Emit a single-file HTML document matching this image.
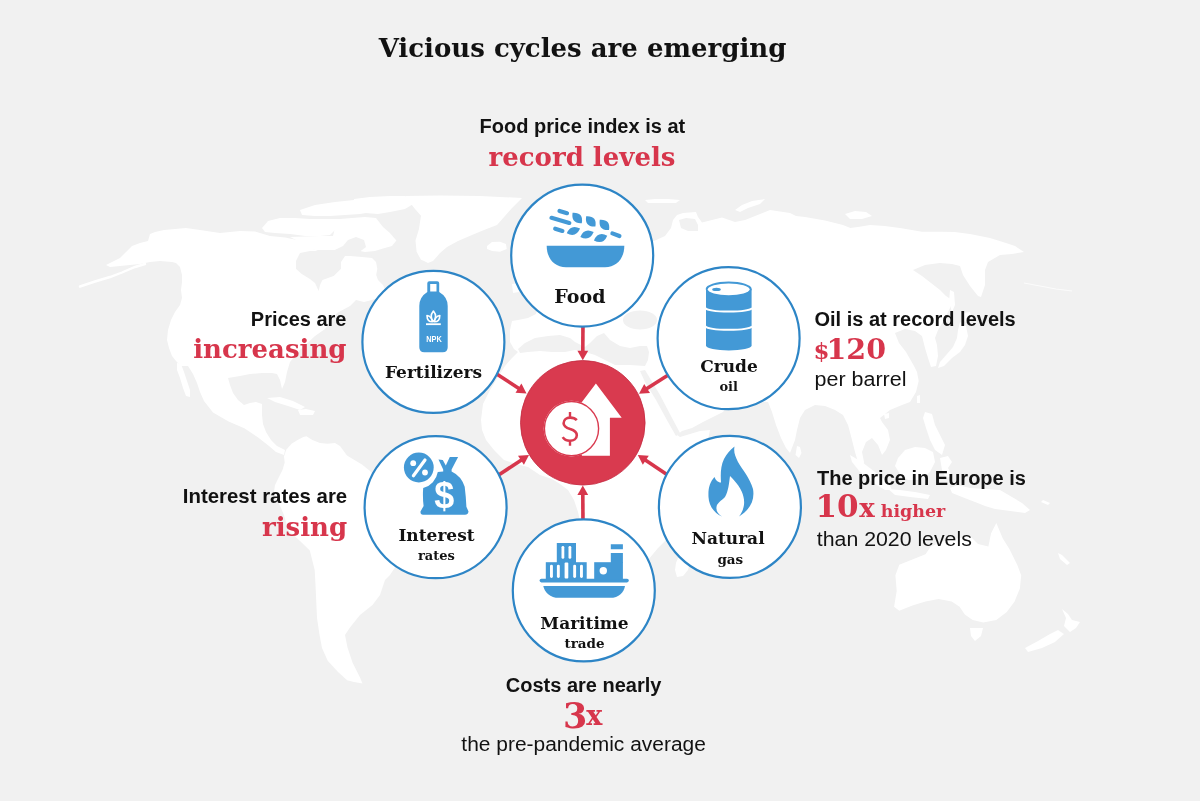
<!DOCTYPE html>
<html>
<head>
<meta charset="utf-8">
<title>Vicious cycles are emerging</title>
<style>
html,body{margin:0;padding:0;background:#f1f1f1;}
#wrap{position:relative;width:1200px;height:801px;overflow:hidden;background:#f1f1f1;}
svg{position:absolute;left:0;top:0;}
.sans{font-family:"Liberation Sans",Arial,sans-serif;}
.serif{font-family:"DejaVu Serif",Georgia,serif;font-weight:bold;}
</style>
</head>
<body>
<div id="wrap">
<svg width="1200" height="801" viewBox="0 0 1200 801">
<g id="map">
<path d="M106,265 L112,262 L120,258 L126,252 L132,246 L140,243 L148,241 L150,234 L155,232 L164,230 L175,229 L186,228 L200,230 L220,233 L240,231 L255,231.5 L270,236 L285,237.5 L300,240.5 L307.5,247 L318,251 L330,252 L341,256 L350,256 L362,257 L372,258 L376,262 L377.3,268.7 L376.2,275 L378,280 L383,285 L386,292 L380,297 L372,300 L364,302 L356,300 L350,306 L337,313 L325,329 L315,336 L300,350 L290,362 L287,372 L285,382 L282,389 L280,380 L277,374 L272,373 L262,373 L250,374 L240,376 L228,378 L230,385 L233,393 L238,400 L244,405 L250,403 L256,402 L262,404 L262,415 L263,424 L266,432 L271,440 L277,446 L285,450 L284,455 L276,452 L269,446 L257.8,437.2 L244.3,428.2 L228.6,421.5 L213,412.5 L204,401 L200,392 L197,383 L193,374 L188,366 L181,366 L176,361 L172,356 L169,348 L167,340 L168,330 L171,320 L175,312 L180,305 L182,298 L181,290 L182,282 L182,275 L180,267 L176,263 L172,262 L160,261 L150,262 L140,264 L130,265 L120,266 L110,267Z" fill="#ffffff"/>
<path d="M177,363 L181,364 L184,372 L187,381 L190,390 L190,397 L186,396 L183,388 L180,378 L177,370Z" fill="#ffffff"/>

<path d="M337,222 L350,219 L365,219 L376,218 L383,227 L389.7,232.7 L396.4,240.6 L392,246 L383,248.4 L375,251 L365,252 L355,250 L345,247 L338,243 L333,236 L335,228Z" fill="#ffffff"/>
<path d="M300,210 L315,205 L335,202 L354,200 L365,204 L372,212 L360,214 L345,215 L330,216 L315,216 L302,215Z" fill="#ffffff"/>
<path d="M262,228 L268,221 L280,218 L295,218 L310,219 L325,219 L340,219 L352,218 L365,217 L376,218 L376,223 L360,224 L345,226 L335,230 L330,235 L320,236 L305,236 L290,234 L275,233 L265,232Z" fill="#ffffff"/>
<path d="M290,237 L305,236.5 L320,236 L335,236 L345,240 L343,247 L335,250 L325,250 L315,250 L307,248 L300,242Z" fill="#ffffff"/>
<path d="M354,199 L370,197 L390,196 L405,196 L415,203 L405,209 L390,212 L378,214 L365,213 L355,208Z" fill="#ffffff"/>
<path d="M405,196 L440,195.5 L480,196 L522,198 L512,208 L497,225 L484,230 L472,235 L458,241 L447,247 L440,253 L433,261 L428,263 L424,261 L421,259.7 L416.6,251.8 L415.5,240.6 L418.9,229.3 L421,215.8 L415,209Z" fill="#ffffff"/>
<path d="M487,246 L492,242 L500,241.7 L506,244 L506.7,249 L500,251.7 L492,251 L487,249Z" fill="#ffffff"/>
<path d="M284,456.5 L286.2,449.7 L291.5,443.7 L297.5,440 L303.4,437 L306.4,436.2 L312.4,440 L320,443 L327.4,443.7 L335,443 L340,446 L347,455.5 L354.5,460 L362,464.5 L369.5,470.5 L374,475 L378,482 L385,488 L400,495 L415,502 L425,510 L420,525 L410,545 L400,560 L390,575 L385,580 L380,595 L372.5,605 L360,615 L350,627.5 L345,635 L347.5,647.5 L352.5,662.5 L360,677.5 L362.5,683.5 L354,682 L347.1,680.3 L338,672 L327.7,660.8 L322,648 L319.5,634.8 L317,618 L316.3,602.3 L315.5,585 L314.7,569.9 L309.8,550.4 L300,541 L288.7,531 L283.8,514.7 L281,508 L277,500 L274,492 L275,485 L278.7,477.4 L282.5,470 L284.7,462.5Z" fill="#ffffff"/>
<path d="M518,352 L512,358 L505,366 L498,377 L490,390 L485,400 L483,404 L481,420 L482,430 L486,440 L494,450 L504,460 L516,464 L528,467 L540,475 L552,479 L560,484 L568,490 L574,500 L578,512 L582,530 L588,555 L594,580 L600,598 L610,606 L622,604 L632,596 L640,582 L646,566 L648,560 L658,548 L670,536 L675,520 L680,500 L688,480 L698,458 L708,440 L710,430 L700,431 L690,434 L680,437 L677,435 L682,431 L692,428 L703,422 L715,416 L723,412 L728,405 L730,398 L735,400 L745,401 L755,401 L768,402 L772,412 L776,425 L781,438 L786,448 L790,453 L795,440 L797,430 L800,418 L805,410 L815,405 L825,406 L835,410 L843,415 L848,425 L852,440 L855,452 L858,462 L862,470 L864,462 L862,452 L866,442 L872,438 L878,445 L882,455 L886,450 L890,440 L888,430 L882,422 L880,418 L890,410 L902,405 L910,402 L916,392 L918.7,381 L917,372 L914,366 L906,352 L899,343 L895,333 L905,329 L915,331 L922,336 L925,348 L928,358 L931,367 L936,366 L938,356 L937,345 L935,338 L938,330 L944,320 L950,308 L952,300 L946,296 L940,290 L931,283 L922,276 L913,270 L925,265 L940,263 L952,264 L960,266 L963,275 L970,286 L978,296 L981,297 L985,285 L985,270 L988,262 L1000,255 L1012,254 L1024,252 L1015,246 L1006,243 L990,238 L970,234 L955,232 L940,231.7 L922,231.7 L900,228 L885,226 L870,225 L858,227 L850.4,228 L843,225 L825,220.4 L805,217 L796,216 L790,213 L770,210 L760,214 L745,220 L735,222 L722,217.5 L712,220 L702,222.5 L698,217 L696,212 L683,213 L677,215 L673,220 L671,228 L665,236 L654,241 L645,243 L640,243 L625,222 L610,212 L595,215 L580,225 L568,240 L558,258 L550,272 L545,290 L538,305 L536,314 L528,318 L518,320 L512,321 L510,330 L510,342 L514,349Z" fill="#ffffff"/>
<path d="M960,322 L966,326 L968,336 L965,345 L960,352 L952,358 L944,366 L938,368 L940,362 L947,354 L953,347 L957,338 L958,330Z" fill="#ffffff"/>
<path d="M963,313 L970,312 L972,318 L966,322 L962,318Z" fill="#ffffff"/>
<path d="M678,558 L686,556 L690,562 L688,570 L683,576 L677,577 L675,570 L676,563Z" fill="#ffffff"/>
<path d="M850,455 L862,462 L875,472 L888,482 L892,490 L885,490 L872,482 L860,472 L852,462Z" fill="#ffffff"/>
<path d="M888,489 L900,490 L915,492 L930,495 L928,499 L910,497 L895,495Z" fill="#ffffff"/>
<path d="M898,458 L905,450 L915,447 L925,448 L933,452 L935,462 L930,472 L920,480 L908,480 L900,474 L895,466Z" fill="#ffffff"/>
<path d="M940,458 L948,456 L952,462 L948,468 L952,476 L946,478 L942,470Z" fill="#ffffff"/>
<path d="M925,412 L932,414 L935,425 L940,435 L945,445 L942,455 L935,450 L930,440 L926,428 L923,418Z" fill="#ffffff"/>
<path d="M950,488 L958,485 L970,488 L985,489 L1000,490 L1012,497 L1022,503 L1030,510 L1025,513 L1010,511 L995,509 L985,506 L975,502 L962,497 L952,493Z" fill="#ffffff"/>
<path d="M996.3,522.9 L1002.8,538.6 L1009.4,549.1 L1017.2,564.8 L1021.2,575.3 L1019.9,588.4 L1014.6,601.5 L1006.8,612 L996.3,619.9 L983.2,622.5 L972.7,619.9 L964.8,614.6 L959.6,606.8 L951.7,601.5 L938.6,598.9 L925.5,601.5 L912.4,605.4 L899.3,610.7 L894.1,606.8 L896.7,591 L895.4,575.3 L899.3,564.8 L912.4,559.6 L925.5,554.3 L930.8,546.5 L943.9,541.2 L957,538.6 L970,536 L978,543.9 L988.4,546.5 L991,533.4Z" fill="#ffffff"/>
<path d="M970,628 L983,628 L981,636 L975,641 L971,636Z" fill="#ffffff"/>
<path d="M1062,609 L1068,614 L1072,620 L1080,622 L1076,628 L1070,632 L1064,626 L1066,618Z" fill="#ffffff"/>
<path d="M1058,630 L1064,634 L1055,642 L1042,648 L1028,652 L1025,648 L1038,641 L1050,634Z" fill="#ffffff"/>
<path d="M267,398 L280,397 L293,401 L305,407 L300,410 L288,406 L275,402Z" fill="#ffffff"/>
<path d="M298,410 L306,409 L315,411 L313,415 L300,415Z" fill="#ffffff"/>
<path d="M735,210 L742,205 L752,201 L765,199 L760,204 L748,208 L740,212Z" fill="#ffffff"/>
<path d="M845,214 L855,211 L866,212 L872,216 L862,219 L850,219Z" fill="#ffffff"/>
<path d="M797,446 L800,447 L801.5,453 L799,458 L795.5,455Z" fill="#ffffff"/>
<path d="M520,265 L528,264 L533,275 L535,290 L528,298 L521,292 L519,280Z" fill="#ffffff"/>
<path d="M512,284 L518,283 L519,292 L513,293Z" fill="#ffffff"/>
<path d="M950,290 L954,292 L955,305 L952,312 L949,302Z" fill="#ffffff"/>
<path d="M917,396 L920,395 L920,403 L917,403Z" fill="#ffffff"/>
<path d="M1058,553 L1062,555 L1070,563 L1067,565 L1060,559Z" fill="#ffffff"/>
<path d="M1043,500 L1050,503 L1048,505 L1041,502Z" fill="#ffffff"/>
<path d="M884,414 L889,413 L889,418 L885,419Z" fill="#ffffff"/>

<path d="M645,200 L655,199 L668,199 L680,200 L676,203 L660,203 L648,203Z" fill="#ffffff"/>
<path d="M296,261 L300,253 L310,251 L325,251 L335,250 L343,246 L348,240 L356,237 L364,240 L366,247 L358,253 L345,256 L341,262 L341,268.7 L333.6,276 L322.4,280 L320,285 L318.7,291 L315,283 L310,279 L301.8,274 L296,268.7Z" fill="#f1f1f1"/>
<path d="M518,349 L525,343 L535,338 L548,336 L560,335 L570,338 L575,342 L585,347 L590,343 L597,336 L604,333 L610,340 L620,346 L630,348 L640,346 L647,346 L649,352 L648,360 L645,366 L630,365 L615,365 L605,360 L595,355 L585,352 L575,350 L565,352 L552,352 L540,351 L528,352 L520,353Z" fill="#f1f1f1"/>
<path d="M640,371 L645,370 L660,395 L672,418 L680,433 L676,436 L668,422 L656,400 L645,382Z" fill="#f1f1f1"/>
<path d="M679,220 L686,218 L695,219 L698,225 L698,231 L688,231 L681,228Z" fill="#f1f1f1"/>
<path d="M585,265 L595,262 L600,275 L595,290 L588,285Z" fill="#f1f1f1"/>
<ellipse cx="640" cy="320" rx="17" ry="9.5" fill="#f1f1f1"/>
<path d="M80,286.5 L95,281.5 L110,277 L122,272.5 L135,267 L145,264" fill="none" stroke="#ffffff" stroke-width="2.4" stroke-linecap="round"/>
<path d="M1024,283 L1040,286 L1056,289 L1072,291" fill="none" stroke="#ffffff" stroke-width="1.2" opacity="0.7"/>
<path d="M341,255 L352,254.5 L362,255 L376,257" fill="none" stroke="#f1f1f1" stroke-width="2"/>
</g>
<g id="arrows">
<line x1="583.0" y1="320.0" x2="582.8" y2="351.7" stroke="#d7364c" stroke-width="3.6"/><path d="M582.8,360.3 L577.4,350.7 L588.2,350.7Z" fill="#d7364c"/>
<line x1="583.0" y1="525.0" x2="582.8" y2="494.1" stroke="#d7364c" stroke-width="3.6"/><path d="M582.8,485.5 L588.2,495.1 L577.4,495.1Z" fill="#d7364c"/>
<line x1="494.0" y1="372.2" x2="519.3" y2="388.7" stroke="#d7364c" stroke-width="3.6"/><path d="M526.5,393.4 L515.5,392.7 L521.4,383.6Z" fill="#d7364c"/>
<line x1="671.0" y1="373.2" x2="646.2" y2="389.1" stroke="#d7364c" stroke-width="3.6"/><path d="M639.0,393.7 L644.2,384.0 L650.0,393.1Z" fill="#d7364c"/>
<line x1="496.0" y1="476.7" x2="521.8" y2="459.7" stroke="#d7364c" stroke-width="3.6"/><path d="M529.0,455.0 L523.9,464.8 L518.0,455.8Z" fill="#d7364c"/>
<line x1="671.0" y1="477.2" x2="644.9" y2="459.8" stroke="#d7364c" stroke-width="3.6"/><path d="M637.8,455.0 L648.8,455.8 L642.8,464.8Z" fill="#d7364c"/>
</g>
<g id="circles">
<circle cx="582.2" cy="255.6" r="71" fill="#fff" stroke="#2d85c6" stroke-width="2.2"/>
<circle cx="433.4" cy="341.9" r="71" fill="#fff" stroke="#2d85c6" stroke-width="2.2"/>
<circle cx="728.6" cy="338.2" r="71" fill="#fff" stroke="#2d85c6" stroke-width="2.2"/>
<circle cx="435.6" cy="507.2" r="71" fill="#fff" stroke="#2d85c6" stroke-width="2.2"/>
<circle cx="729.9" cy="506.9" r="71" fill="#fff" stroke="#2d85c6" stroke-width="2.2"/>
<circle cx="583.8" cy="590.4" r="71" fill="#fff" stroke="#2d85c6" stroke-width="2.2"/>
<circle cx="582.8" cy="422.8" r="62.3" fill="#d93a4f" stroke="#c42a40" stroke-width="0.8"/>
</g>
<g id="center">
<path d="M595.9,383.4 L621.7,417.7 L609.9,417.7 L609.9,455.7 L581.9,455.7 L581.9,417.7 L570.1,417.7Z" fill="#fff"/>
<circle cx="571.5" cy="428.6" r="27.8" fill="#fff"/>
<circle cx="571.5" cy="428.6" r="27.1" fill="none" stroke="#d93a4f" stroke-width="1.4"/>
<path d="M576.8,420.2 C575.3,418.5 573,417.6 570.2,417.6 C566.3,417.6 563.6,420 563.6,423.2 C563.6,426.8 567,428 570.2,429.1 C574,430.3 576.8,432 576.8,435.3 C576.8,438.6 573.8,440.8 569.9,440.8 C566.6,440.8 564,439.4 562.7,437.2" fill="none" stroke="#d93a4f" stroke-width="2.6"/>
<path d="M570,412.1 V417.6 M570,440.8 V445.8" stroke="#d93a4f" stroke-width="2.4"/>
</g>
<g id="icons" fill="#4399d6">
<path d="M546.7,245.7 H624.3 C624.3,258 617,267.2 605,267.2 H566 C554,267.2 546.7,258 546.7,245.7Z"/>
<line x1="559.5" y1="210.9" x2="567.0" y2="213.2" stroke="#4399d6" stroke-width="4.2" stroke-linecap="round"/>
<line x1="551.5" y1="217.8" x2="569.3" y2="222.9" stroke="#4399d6" stroke-width="4.2" stroke-linecap="round"/>
<line x1="555.2" y1="228.7" x2="562.4" y2="230.9" stroke="#4399d6" stroke-width="4.2" stroke-linecap="round"/>
<line x1="612.4" y1="233.4" x2="619.4" y2="236" stroke="#4399d6" stroke-width="4.2" stroke-linecap="round"/>
<path transform="translate(577.2,218.0) rotate(48)" d="M-6.9,0 Q0,-8.6 6.9,0 Q0,8.6 -6.9,0Z"/>
<path transform="translate(573.4,230.9) rotate(-20)" d="M-7.1,0 Q0,-7.6 7.1,0 Q0,7.6 -7.1,0Z"/>
<path transform="translate(590.8000000000001,221.4) rotate(48)" d="M-6.9,0 Q0,-8.6 6.9,0 Q0,8.6 -6.9,0Z"/>
<path transform="translate(587.0,234.5) rotate(-20)" d="M-7.1,0 Q0,-7.6 7.1,0 Q0,7.6 -7.1,0Z"/>
<path transform="translate(604.4000000000001,224.8) rotate(48)" d="M-6.9,0 Q0,-8.6 6.9,0 Q0,8.6 -6.9,0Z"/>
<path transform="translate(600.6,238.1) rotate(-20)" d="M-7.1,0 Q0,-7.6 7.1,0 Q0,7.6 -7.1,0Z"/>
<path d="M427.3,283.2 Q427.3,281.2 429.3,281.2 H437.2 Q439.2,281.2 439.2,283.2 V292 Q447.7,297 447.7,306 V347.3 Q447.7,352.3 442.7,352.3 H424.3 Q419.3,352.3 419.3,347.3 V306 Q419.3,297 427.3,292Z"/>
<rect x="430.2" y="284" width="6.3" height="7.5" fill="#fff"/>
<g fill="none" stroke="#fff" stroke-width="1.6" stroke-linejoin="round"><path d="M433.4,311 C430.6,314.5 430.6,318.5 433.4,321.5 C436.2,318.5 436.2,314.5 433.4,311Z"/><path d="M427,315.5 C427,319.5 429,321.8 432.5,321.8 C432,318.5 430,316 427,315.5Z"/><path d="M439.8,315.5 C439.8,319.5 437.8,321.8 434.3,321.8 C434.8,318.5 436.8,316 439.8,315.5Z"/></g>
<rect x="426" y="323.3" width="14.8" height="1.8" fill="#fff"/>
<text x="434" y="342" text-anchor="middle" font-family="Liberation Sans,Arial,sans-serif" font-weight="bold" font-size="9.6" fill="#fff" textLength="15.6" lengthAdjust="spacingAndGlyphs">NPK</text>
<path d="M706,289 V345.5 A22.8,5 0 0 0 751.6,345.5 V289Z"/>
<ellipse cx="728.7" cy="289" rx="23" ry="7.6"/>
<ellipse cx="728.7" cy="289.3" rx="20.9" ry="5.9" fill="#fff"/>
<ellipse cx="716.5" cy="289.4" rx="4.3" ry="1.7"/>
<path d="M705.5,308.2 A23.5,4 0 0 0 752,308.2" fill="none" stroke="#fff" stroke-width="2"/>
<path d="M705.5,326.3 A23.5,4 0 0 0 752,326.3" fill="none" stroke="#fff" stroke-width="2"/>
<path d="M734.5,446.5 C733.5,452 735,456 738,462 C742,469 750,478 753,489 C755,500 750,510 739,516.5 C744,510 745,503 743.5,497 C742,489 736,482 730,476 C729,483 728.5,491 725,497 C721,501 717,503 716.5,507 C716,511 718,514 722,516.5 C714,513 709,506 708.5,497 C708,488 710,482 714.5,477 C715.5,480 718,482.5 721,482.5 C720.5,475 720.5,466 724,459 C726.5,454 730,450 734.5,446.5Z"/>
<path d="M438.5,459.6 L442.8,460 L445.8,465.5 L449.8,457 L458.1,457 L451.6,469.5 L451.6,471.5 Q461.2,476 464.7,486.7 Q466,497 466.4,506.8 L468.5,511.5 Q468,514.7 465,514.7 H423 Q420.3,514.7 420.5,511.5 L423.6,506 Q422.5,497 423.2,488 A20,20 0 0 0 437.8,472 L443.2,471.5 L443.2,469.5Z"/>
<circle cx="418.8" cy="467.5" r="14.9"/>
<line x1="425" y1="460" x2="413.4" y2="475.8" stroke="#fff" stroke-width="3.2" stroke-linecap="round"/>
<circle cx="413.2" cy="463.2" r="2.9" fill="#fff"/><circle cx="425" cy="472.5" r="2.9" fill="#fff"/>
<text x="444.2" y="508.2" text-anchor="middle" font-family="Liberation Sans,Arial,sans-serif" font-weight="bold" font-size="36" fill="#fff">$</text>
<rect x="539.6" y="578.8" width="89.2" height="3.6" rx="1.8"/>
<path d="M543.3,585.9 H625 C624,592 619,597.8 610,597.8 H559 C550,597.8 544.5,592 543.3,585.9Z"/>
<rect x="545.8" y="562.2" width="40.9" height="17"/>
<rect x="556.8" y="543" width="19.2" height="20"/>
<rect x="594.2" y="562.2" width="28.7" height="17"/>
<rect x="610.8" y="553" width="12.1" height="10"/>
<rect x="610.8" y="544.25" width="12.1" height="5"/>
<g fill="#fff">
<rect x="561.5" y="545.9" width="2.8" height="12.9" rx="1.4"/>
<rect x="568.5" y="545.9" width="2.8" height="12.9" rx="1.4"/>
<rect x="550" y="564.7" width="2.9" height="13.3" rx="1.4"/>
<rect x="556.9" y="564.7" width="2.9" height="13.3" rx="1.4"/>
<rect x="573.2" y="564.7" width="2.9" height="13.3" rx="1.4"/>
<rect x="580" y="564.7" width="2.9" height="13.3" rx="1.4"/>
<rect x="564.6" y="562.4" width="3.7" height="16.2" rx="1"/>
<circle cx="603.3" cy="570.7" r="3.7"/>
</g>
</g>
<g id="text"><text x="582.5" y="57.4" class="serif" font-size="26" fill="#121212" text-anchor="middle" >Vicious cycles are emerging</text><text x="582.4" y="132.6" class="sans" font-size="20" fill="#121212" text-anchor="middle" font-weight="bold">Food price index is at</text><text x="582" y="165.7" class="serif" font-size="26" fill="#d7364c" text-anchor="middle" >record levels</text><text x="346.5" y="325.8" class="sans" font-size="20" fill="#121212" text-anchor="end" font-weight="bold">Prices are</text><text x="346.5" y="358.1" class="serif" font-size="26" fill="#d7364c" text-anchor="end" >increasing</text><text x="347.2" y="502.9" class="sans" font-size="20.4" fill="#121212" text-anchor="end" font-weight="bold">Interest rates are</text><text x="347.2" y="535.9" class="serif" font-size="26" fill="#d7364c" text-anchor="end" >rising</text><text x="814.5" y="325.7" class="sans" font-size="20" fill="#121212" text-anchor="start" font-weight="bold">Oil is at record levels</text><text x="813.5" y="359.2" class="serif" fill="#d7364c"><tspan font-size="23">$</tspan><tspan font-size="28.5" dx="-3">120</tspan></text><text x="814.5" y="385.8" class="sans" font-size="20" fill="#121212" text-anchor="start" textLength="92" lengthAdjust="spacingAndGlyphs">per barrel</text><text x="817" y="484.75" class="sans" font-size="20" fill="#121212" text-anchor="start" font-weight="bold">The price in Europe is</text><text x="815.5" y="517.3" class="serif" fill="#d7364c"><tspan font-size="31">10</tspan><tspan font-size="26" dx="0.5">x</tspan><tspan font-size="17.5" dx="6">higher</tspan></text><text x="816.8" y="545.8" class="sans" font-size="20" fill="#121212" text-anchor="start" textLength="155" lengthAdjust="spacingAndGlyphs">than 2020 levels</text><text x="583.6" y="691.8" class="sans" font-size="20" fill="#121212" text-anchor="middle" font-weight="bold">Costs are nearly</text><text x="563" y="724.8" class="serif" fill="#d7364c"><tspan font-size="35" dy="3.5">3</tspan><tspan font-size="27" dy="-3.5" dx="-1">x</tspan></text><text x="583.6" y="751" class="sans" font-size="20" fill="#121212" text-anchor="middle" textLength="244.5" lengthAdjust="spacingAndGlyphs">the pre-pandemic average</text><text x="579.9" y="302.8" class="serif" font-size="19" fill="#121212" text-anchor="middle" >Food</text><text x="433.5" y="378.3" class="serif" font-size="17" fill="#121212" text-anchor="middle" >Fertilizers</text><text x="729" y="371.5" class="serif" font-size="17" fill="#121212" text-anchor="middle" >Crude</text><text x="728.7" y="391.4" class="serif" font-size="13" fill="#121212" text-anchor="middle" >oil</text><text x="436.5" y="540.9" class="serif" font-size="17" fill="#121212" text-anchor="middle" >Interest</text><text x="436.4" y="560.2" class="serif" font-size="13" fill="#121212" text-anchor="middle" >rates</text><text x="728" y="544.3" class="serif" font-size="17" fill="#121212" text-anchor="middle" >Natural</text><text x="730.3" y="563.9" class="serif" font-size="13.5" fill="#121212" text-anchor="middle" >gas</text><text x="584.5" y="629.3" class="serif" font-size="17" fill="#121212" text-anchor="middle" >Maritime</text><text x="584.5" y="648.4" class="serif" font-size="13.5" fill="#121212" text-anchor="middle" >trade</text></g>
</svg>
</div>
</body>
</html>
